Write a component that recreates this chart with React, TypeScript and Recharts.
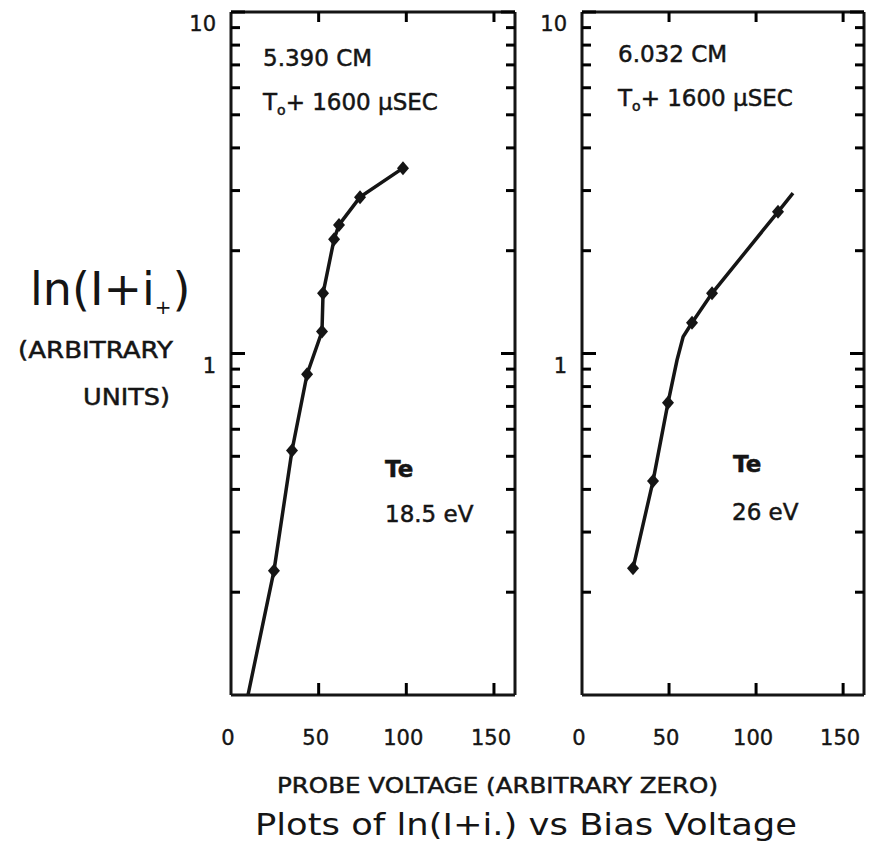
import { Line, LineChart, XAxis, YAxis } from "recharts";

// Probe current vs bias voltage, two radial positions
const leftVolts = [9.7, 24.5, 34.8, 43.4, 51.9, 52.5, 58.8, 61.6, 73.6, 98.1];
const leftCurrent = [0.1, 0.231, 0.52, 0.87, 1.16, 1.5, 2.16, 2.38, 2.87, 3.49];
const leftMarked = [false, true, true, true, true, true, true, true, true, true];

const rightVolts = [29.3, 40.8, 49.4, 54.6, 58.1, 63.2, 74.7, 112.6, 121.2];
const rightCurrent = [0.235, 0.423, 0.717, 0.957, 1.12, 1.23, 1.5, 2.6, 2.95];
const rightMarked = [true, true, true, false, false, true, true, true, false];

const xTicks = [0, 50, 100, 150];
const yTicks = [0.1, 0.2, 0.3, 0.4, 0.5, 0.6, 0.7, 0.8, 0.9, 1, 2, 3, 4, 5, 6, 7, 8, 9, 10];
const yLabelled = [1, 10];

const leftData = leftVolts.map((v, i) => ({ v, cur: leftCurrent[i], mark: leftMarked[i] }));
const rightData = rightVolts.map((v, i) => ({ v, cur: rightCurrent[i], mark: rightMarked[i] }));

const INK = "#151515";
const FONT = "DejaVu Sans, Verdana, sans-serif";
const W = 874;
const H = 845;
const PLOT_TOP = 12;
const PLOT_BOTTOM = 695;
const AX = 2; // thickness reserved for each axis

const diamond = (props: any) => {
  const { cx, cy, payload, index } = props;
  if (!payload.mark) return <g key={index} />;
  return (
    <polygon
      key={index}
      points={`${cx - 6},${cy} ${cx},${cy - 7} ${cx + 6},${cy} ${cx},${cy + 7}`}
      fill={INK}
    />
  );
};

// Inward log ticks on a vertical frame edge; y comes from the axis scale
const makeYTick = (edge: number, dir: number, withLabels: boolean) => (props: any) => {
  const y = Number(props.y);
  const v = props.payload.value;
  if (v === 0.1) return <g />;
  const major = yLabelled.includes(v);
  const len = major ? 14 : 9;
  return (
    <g>
      <path d={`M${edge},${y}H${edge + dir * len}`} stroke="#000" strokeWidth={3} />
      {withLabels && major && (
        <text
          x={edge - 15}
          y={y + 19}
          textAnchor="end"
          fontFamily={FONT}
          fontSize={21}
          fill={INK}
          stroke={INK}
          strokeWidth={0.4}
        >
          {v}
        </text>
      )}
    </g>
  );
};

// Inward ticks on a horizontal frame edge; x comes from the axis scale
const makeXTick = (edge: number, dir: number, withLabels: boolean) => (props: any) => {
  const x = Number(props.x);
  const v = props.payload.value;
  return (
    <g>
      {v !== 0 && (
        <path
          d={`M${x},${edge}V${edge + dir * (withLabels ? 12 : 10)}`}
          stroke="#000"
          strokeWidth={3}
        />
      )}
      {withLabels && (
        <text
          x={x - 3}
          y={edge + 50}
          textAnchor="middle"
          fontFamily={FONT}
          fontSize={21}
          fill={INK}
          stroke={INK}
          strokeWidth={0.4}
        >
          {v}
        </text>
      )}
    </g>
  );
};

function Panel({ data, left, right }: { data: any[]; left: number; right: number }) {
  const axisLine = { stroke: INK, strokeWidth: 3 };
  return (
    <div style={{ position: "absolute", left: 0, top: 0 }}>
      <LineChart
        width={W}
        height={H}
        data={data}
        margin={{
          top: PLOT_TOP - AX,
          bottom: H - PLOT_BOTTOM - AX,
          left: left - AX,
          right: W - right - AX,
        }}
      >
        <XAxis
          dataKey="v"
          type="number"
          domain={[0, 162]}
          ticks={xTicks}
          interval={0}
          height={AX}
          tickLine={false}
          tickSize={0}
          tickMargin={0}
          axisLine={axisLine}
          tick={makeXTick(PLOT_BOTTOM, -1, true)}
        />
        <XAxis
          xAxisId="top"
          orientation="top"
          dataKey="v"
          type="number"
          domain={[0, 162]}
          ticks={xTicks}
          interval={0}
          height={AX}
          tickLine={false}
          tickSize={0}
          tickMargin={0}
          axisLine={axisLine}
          tick={makeXTick(PLOT_TOP, 1, false)}
        />
        <YAxis
          type="number"
          scale="log"
          domain={[0.1, 10]}
          allowDataOverflow
          ticks={yTicks}
          interval={0}
          width={AX}
          tickLine={false}
          tickSize={0}
          tickMargin={0}
          axisLine={axisLine}
          tick={makeYTick(left, 1, true)}
        />
        <YAxis
          yAxisId="right"
          orientation="right"
          type="number"
          scale="log"
          domain={[0.1, 10]}
          allowDataOverflow
          ticks={yTicks}
          interval={0}
          width={AX}
          tickLine={false}
          tickSize={0}
          tickMargin={0}
          axisLine={axisLine}
          tick={makeYTick(right, -1, false)}
        />
        <Line
          dataKey="cur"
          type="linear"
          stroke={INK}
          strokeWidth={3.5}
          dot={diamond}
          activeDot={false}
          isAnimationActive={false}
        />
      </LineChart>
    </div>
  );
}

export default function App() {
  const txt = { fontFamily: FONT, fill: INK, stroke: INK, strokeWidth: 0.5 };
  return (
    <div style={{ position: "absolute", left: 0, top: 0, width: W, height: H, background: "#fff" }}>
      {/* annotation layer sits underneath the two plots */}
      <svg width={W} height={H} style={{ position: "absolute", left: 0, top: 0 }}>
        <text {...txt} x={263} y={66} fontSize={23}>5.390 CM</text>
        <text {...txt} x={263} y={110} fontSize={23}>
          T<tspan fontSize={14} dy={5}>o</tspan>
          <tspan dy={-5}>+ 1600 μSEC</tspan>
        </text>
        <text {...txt} x={385} y={477} fontSize={23} fontWeight="bold">Te</text>
        <text {...txt} x={385} y={522} fontSize={23}>18.5 eV</text>

        <text {...txt} x={618} y={62} fontSize={23}>6.032 CM</text>
        <text {...txt} x={618} y={106} fontSize={23}>
          T<tspan fontSize={14} dy={5}>o</tspan>
          <tspan dy={-5}>+ 1600 μSEC</tspan>
        </text>
        <text {...txt} x={733} y={472} fontSize={23} fontWeight="bold">Te</text>
        <text {...txt} x={732} y={520} fontSize={23}>26 eV</text>

        {/* y-axis title */}
        <text x={30} y={305} fontFamily={FONT} fill={INK} fontSize={46}>
          ln(I+i<tspan fontSize={20} dy={9}>+</tspan>
          <tspan dy={-9} dx={1}>)</tspan>
        </text>
        <text {...txt} x={18} y={358} fontSize={23} textLength={155} lengthAdjust="spacingAndGlyphs">
          (ARBITRARY
        </text>
        <text {...txt} x={83} y={405} fontSize={23} textLength={87} lengthAdjust="spacingAndGlyphs">
          UNITS)
        </text>

        {/* x-axis title and caption */}
        <text {...txt} x={277} y={793} fontSize={22} textLength={441} lengthAdjust="spacingAndGlyphs">
          PROBE VOLTAGE (ARBITRARY ZERO)
        </text>
        <text
          x={255}
          y={835}
          fontFamily={FONT}
          fill={INK}
          fontSize={31}
          textLength={542}
          lengthAdjust="spacingAndGlyphs"
        >
          Plots of ln(I+i.) vs Bias Voltage
        </text>
      </svg>
      <Panel data={leftData} left={231} right={515} />
      <Panel data={rightData} left={582} right={864} />
    </div>
  );
}
